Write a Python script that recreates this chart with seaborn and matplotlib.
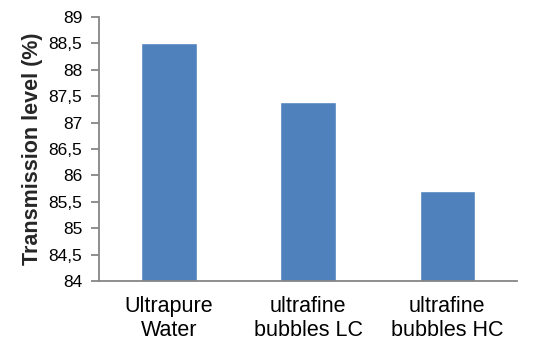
import matplotlib
matplotlib.use("Agg")
import matplotlib.pyplot as plt
import seaborn as sns
import pandas as pd
from matplotlib.ticker import FixedLocator

categories = ["Ultrapure\nWater", "ultrafine\nbubbles LC", "ultrafine\nbubbles HC"]
transmission = [88.5, 87.4, 85.7]
y_ticks = [84, 84.5, 85, 85.5, 86, 86.5, 87, 87.5, 88, 88.5, 89]

sns.set_theme(style="white")
plt.rcParams["font.family"] = ["Liberation Sans", "DejaVu Sans"]

df = pd.DataFrame({"category": categories, "transmission": transmission})

fig = plt.figure(figsize=(5.33, 3.48), dpi=100)
ax = fig.add_axes([0.186, 0.1925, 0.784, 0.7585])

sns.barplot(data=df, x="category", y="transmission", color="#4F81BD",
            saturation=1, width=0.4, ax=ax)

ax.set_ylim(84, 89)
ax.set_xlim(-0.5, 2.5)
ax.set_yticks(y_ticks)
ax.set_yticklabels([f"{t:g}".replace(".", ",") for t in y_ticks], fontsize=12.5)

ax.set_xlabel("")
ax.set_ylabel("Transmission level (%)", fontsize=15.5, fontweight="bold", labelpad=4)

# category labels without tick marks; boundary ticks between categories
ax.tick_params(axis="x", which="major", length=0, labelsize=15.5, pad=11, colors="black")
ax.xaxis.set_minor_locator(FixedLocator([-0.5, 0.5, 1.5, 2.5]))
ax.tick_params(axis="x", which="minor", length=6, width=1.3, color="#868686", direction="out")
ax.tick_params(axis="y", length=6, width=1.3, color="#868686", direction="out", pad=6,
               left=True, labelcolor="black")
for lbl in ax.get_xticklabels():
    lbl.set_linespacing(1.15)

for side in ["top", "right"]:
    ax.spines[side].set_visible(False)
for side in ["left", "bottom"]:
    ax.spines[side].set_color("#868686")
    ax.spines[side].set_linewidth(1.3)

fig.savefig("out.png", dpi=100, facecolor="white")
